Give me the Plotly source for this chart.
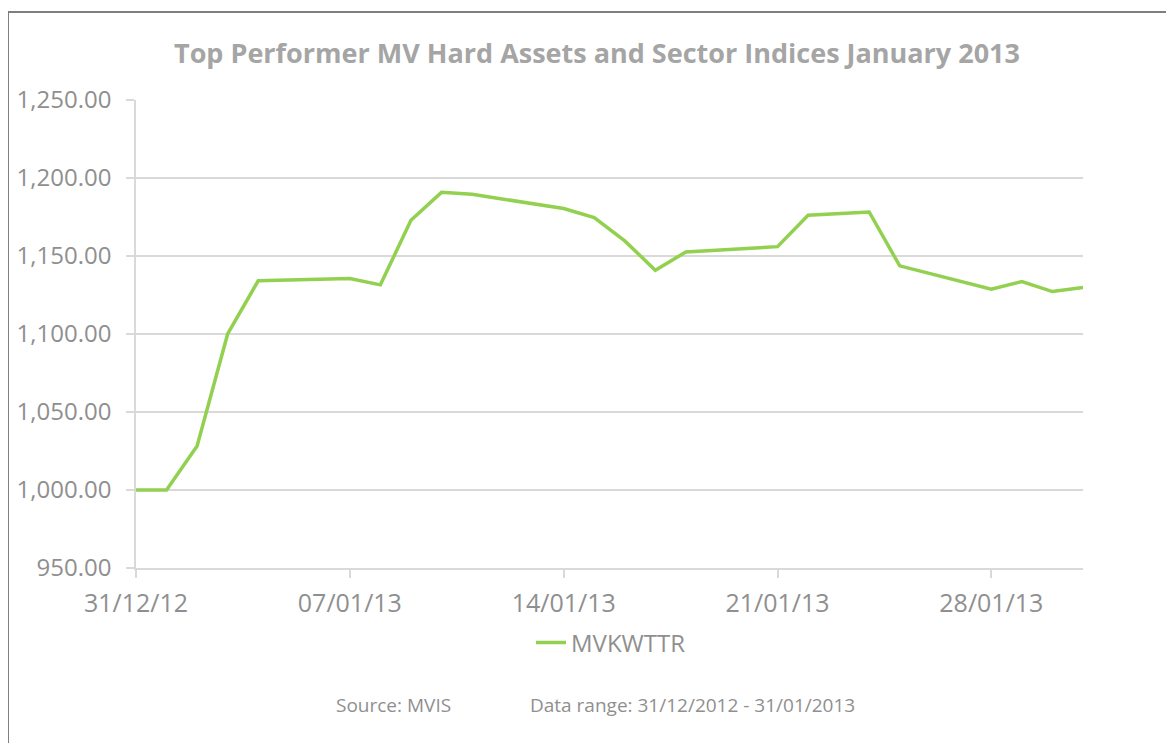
import plotly.graph_objects as go

dates = ["2012-12-31", "2013-01-01", "2013-01-02", "2013-01-03", "2013-01-04",
         "2013-01-07", "2013-01-08", "2013-01-09", "2013-01-10", "2013-01-11",
         "2013-01-14", "2013-01-15", "2013-01-16", "2013-01-17", "2013-01-18",
         "2013-01-21", "2013-01-22", "2013-01-23", "2013-01-24", "2013-01-25",
         "2013-01-28", "2013-01-29", "2013-01-30", "2013-01-31"]
mvkwttr = [1000.0, 1000.0, 1028.2, 1100.0, 1134.1,
           1135.5, 1131.5, 1172.9, 1190.8, 1189.6,
           1180.4, 1174.6, 1159.7, 1140.9, 1152.6,
           1156.0, 1176.1, 1177.1, 1178.2, 1143.7,
           1128.7, 1133.6, 1127.2, 1129.8]
series_name = "MVKWTTR"
title_text = "Top Performer MV Hard Assets and Sector Indices January 2013"
source_text = "Source: MVIS"
range_text = "Data range: 31/12/2012 - 31/01/2013"

GRID = "#d9d9d9"
TXT = "#8f8f8f"
FONT = "Open Sans"

OFF = 8  # page body margin
W, H = 1174 - OFF, 743 - OFF
L, R, T, B = 136 - OFF, 1083 - OFF, 100 - OFF, 568 - OFF
pw, ph = R - L, B - T

def px(xp):
    return (xp - OFF - L) / pw

def py(yp):
    return (B - (yp - OFF)) / ph

fig = go.Figure()
fig.add_trace(go.Scatter(
    x=dates, y=mvkwttr, mode="lines", name=series_name,
    line=dict(color="#92d050", width=3.5),
))

fig.update_layout(
    width=W, height=H,
    margin=dict(l=L, r=W - R, t=T, b=H - B),
    paper_bgcolor="white", plot_bgcolor="white",
    font=dict(family=FONT, color=TXT),
    title=dict(text="<b>" + title_text + "</b>", x=(597 - OFF) / W, xanchor="center",
               y=1 - (54 - OFF) / H, yanchor="middle", yref="container",
               font=dict(family=FONT, size=27, color="#a5a5a5")),
    showlegend=True,
    legend=dict(orientation="h", x=px(611), xanchor="center", y=py(643), yanchor="middle",
                font=dict(family=FONT, size=24, color=TXT), bgcolor="rgba(0,0,0,0)"),
    xaxis=dict(type="date", range=["2012-12-31", "2013-01-31"],
               tick0="2012-12-31", dtick=7 * 24 * 3600 * 1000, tickformat="%d/%m/%y",
               showgrid=False, showline=True, linecolor=GRID, linewidth=1.5,
               ticks="outside", ticklen=8, tickcolor=GRID, tickwidth=1.5,
               ticklabelstandoff=4, automargin=False,
               tickfont=dict(family=FONT, size=25, color=TXT), zeroline=False),
    yaxis=dict(range=[950, 1250], dtick=50, tickformat=",.2f",
               showgrid=True, gridcolor=GRID, gridwidth=1.5,
               showline=True, linecolor=GRID, linewidth=1.5,
               ticks="outside", ticklen=8, tickcolor=GRID, tickwidth=1.5,
               ticklabelstandoff=10, automargin=False,
               tickfont=dict(family=FONT, size=24, color=TXT), zeroline=False),
    shapes=[dict(type="rect", xref="paper", yref="paper",
                 x0=px(8), x1=px(1200), y0=py(770), y1=py(12),
                 line=dict(color="#7f7f7f", width=2), fillcolor="rgba(0,0,0,0)",
                 layer="below")],
    annotations=[
        dict(text=source_text, xref="paper", yref="paper", x=px(393), y=py(705),
             xanchor="center", yanchor="middle", showarrow=False,
             font=dict(family=FONT, size=19, color=TXT)),
        dict(text=range_text, xref="paper", yref="paper", x=px(692), y=py(705),
             xanchor="center", yanchor="middle", showarrow=False,
             font=dict(family=FONT, size=19, color=TXT)),
    ],
)

fig.write_html("out.html")
